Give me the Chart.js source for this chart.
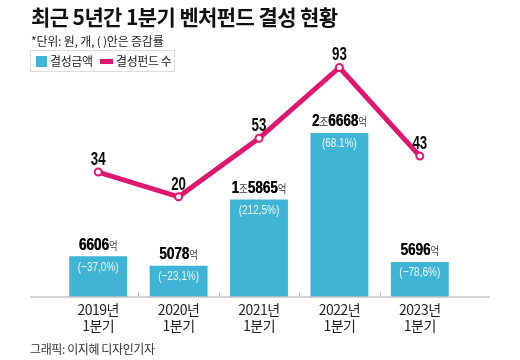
<!DOCTYPE html>
<html><head><meta charset="utf-8">
<script src="https://cdn.jsdelivr.net/npm/chart.js@4/dist/chart.umd.min.js"></script>
<style>
html,body{margin:0;padding:0;background:#fff;}
#wrap{position:relative;width:520px;height:360px;overflow:hidden;font-family:'Noto Sans CJK KR','Noto Sans',sans-serif;color:#111;}
#c{position:absolute;left:0;top:0;}
.t{position:absolute;white-space:nowrap;}
#title{left:31px;top:3px;font-size:21px;font-weight:700;letter-spacing:-0.6px;line-height:26px;color:#111;}
#sub{left:31px;top:33px;font-size:12px;letter-spacing:-0.2px;line-height:16px;color:#222;}
#legend{position:absolute;left:30px;top:50px;width:143px;height:20px;border:1px solid #dcdcdc;}
.sw1{position:absolute;left:5px;top:5px;width:11px;height:11px;background:#3fb4d4;}
.sw2{position:absolute;left:69px;top:8px;width:13px;height:5px;background:#e0176f;}
.lt{position:absolute;top:1px;font-size:12px;letter-spacing:-0.4px;line-height:18px;color:#222;}
#foot{left:30px;top:341px;font-size:12px;letter-spacing:-0.4px;line-height:16px;color:#333;}
</style></head>
<body>
<div id="wrap">
<canvas id="c" width="520" height="360"></canvas>
<div class="t" id="title">최근 5년간 1분기 벤처펀드 결성 현황</div>
<div class="t" id="sub">*단위: 원, 개, ( )안은 증감률</div>
<div id="legend"><div class="sw1"></div><div class="lt" style="left:19px">결성금액</div><div class="sw2"></div><div class="lt" style="left:85px">결성펀드 수</div></div>
<div class="t" id="foot">그래픽: 이지혜 디자인기자</div>
</div>
<script>
// ---- data ----
const categories = [['2019년','1분기'],['2020년','1분기'],['2021년','1분기'],['2022년','1분기'],['2023년','1분기']];
const amounts = [6606, 5078, 15865, 26668, 5696];          // 억 원
const amountChanges = ['(−37,0%)','(−23,1%)','(212,5%)','(68.1%)','(−78,6%)'];
const fundCounts = [34, 20, 53, 93, 43];                   // 개

const BAR = '#3fb4d4', LINE = '#e0176f';
const NUMFONT = "'Liberation Sans','Noto Sans CJK KR',sans-serif";
const KFONT = "'Noto Sans CJK KR',sans-serif";

function amountParts(v){
  if (v >= 10000){
    return [[String(Math.floor(v/10000)),'b'],['조','s'],[String(v%10000).padStart(4,'0'),'b'],['억','s']];
  }
  return [[String(v),'b'],['억','s']];
}

const overlay = {
  id:'overlay',
  beforeDraw(chart){
    const ctx = chart.ctx;
    ctx.letterSpacing = '-0.5px';
  },
  afterDatasetsDraw(chart){
    const ctx = chart.ctx;
    const xs = chart.scales.x;
    const base = chart.scales.y.getPixelForValue(0);
    // baseline and boundary ticks
    ctx.save();
    ctx.strokeStyle = '#c4c4c4';
    ctx.lineWidth = 1.5;
    ctx.beginPath(); ctx.moveTo(30, base); ctx.lineTo(490, base); ctx.stroke();
    ctx.lineWidth = 1;
    for (let i = 0; i < categories.length - 1; i++){
      const x = Math.round((xs.getPixelForValue(i) + xs.getPixelForValue(i+1))/2) + 0.5;
      ctx.beginPath(); ctx.moveTo(x, base - 5); ctx.lineTo(x, base); ctx.stroke();
    }
    ctx.restore();

    // bar labels
    const bm = chart.getDatasetMeta(0);
    bm.data.forEach((el, i) => {
      const parts = amountParts(amounts[i]);
      const sx = 0.82;
      ctx.save();
      ctx.letterSpacing = '0px';
      ctx.textBaseline = 'alphabetic';
      let w = 0;
      const fonts = parts.map(p => p[1]==='b' ? 'bold 16.5px ' + NUMFONT : '11.5px ' + KFONT);
      parts.forEach((p, k) => { ctx.font = fonts[k]; w += ctx.measureText(p[0]).width; });
      ctx.translate(el.x - w*sx/2, el.y - 6.5);
      ctx.scale(sx, 1);
      let cx = 0;
      parts.forEach((p, k) => {
        ctx.font = fonts[k];
        ctx.fillStyle = p[1]==='b' ? '#0a0a0a' : '#333';
        ctx.fillText(p[0], cx, 0);
        if (p[1]==='b'){ ctx.fillText(p[0], cx + 0.4, 0); }
        cx += ctx.measureText(p[0]).width;
      });
      ctx.restore();
      // percentage inside bar
      ctx.save();
      ctx.letterSpacing = '0px';
      ctx.font = '12.5px ' + NUMFONT;
      ctx.fillStyle = '#eef9fc';
      ctx.textAlign = 'center';
      ctx.textBaseline = 'middle';
      ctx.translate(el.x, el.y + 11);
      ctx.scale(0.8, 1);
      ctx.fillText(amountChanges[i], 0, 0);
      ctx.restore();
    });

    // line labels
    const lm = chart.getDatasetMeta(1);
    lm.data.forEach((el, i) => {
      ctx.save();
      ctx.letterSpacing = '0px';
      ctx.font = 'bold 18px ' + NUMFONT;
      ctx.fillStyle = '#0a0a0a';
      ctx.textAlign = 'center';
      ctx.textBaseline = 'alphabetic';
      ctx.translate(el.x, el.y - 7);
      ctx.scale(0.74, 1);
      ctx.fillText(String(fundCounts[i]), 0, 0);
      ctx.restore();
    });
  }
};

new Chart(document.getElementById('c'), {
  data: {
    labels: categories,
    datasets: [
      { type:'bar', label:'결성금액', data: amounts, backgroundColor: BAR, yAxisID:'y',
        categoryPercentage: 1, barPercentage: 0.72, order: 2 },
      { type:'line', label:'결성펀드 수', data: fundCounts, yAxisID:'y1',
        borderColor: LINE, borderWidth: 5, pointRadius: 3.5, pointBorderWidth: 2,
        pointBackgroundColor:'#fff', pointBorderColor: LINE, tension: 0, order: 1 }
    ]
  },
  options: {
    responsive:false, animation:false, devicePixelRatio:1,
    layout:{ padding:{ left:58, right:60, top:40, bottom:13 } },
    plugins:{ legend:{display:false}, tooltip:{enabled:false}, title:{display:false} },
    scales:{
      x:{ grid:{display:false, drawTicks:false}, border:{display:false},
          ticks:{ padding:5, color:'#222', font:{ family: KFONT, size:14, lineHeight:1.15 } },
          afterFit(s){ s.height = 50; } },
      y:{ display:false, min:0, max:41790 },
      y1:{ display:false, min:-36.5, max:108.5 }
    }
  },
  plugins:[overlay]
});
</script>
</body></html>
